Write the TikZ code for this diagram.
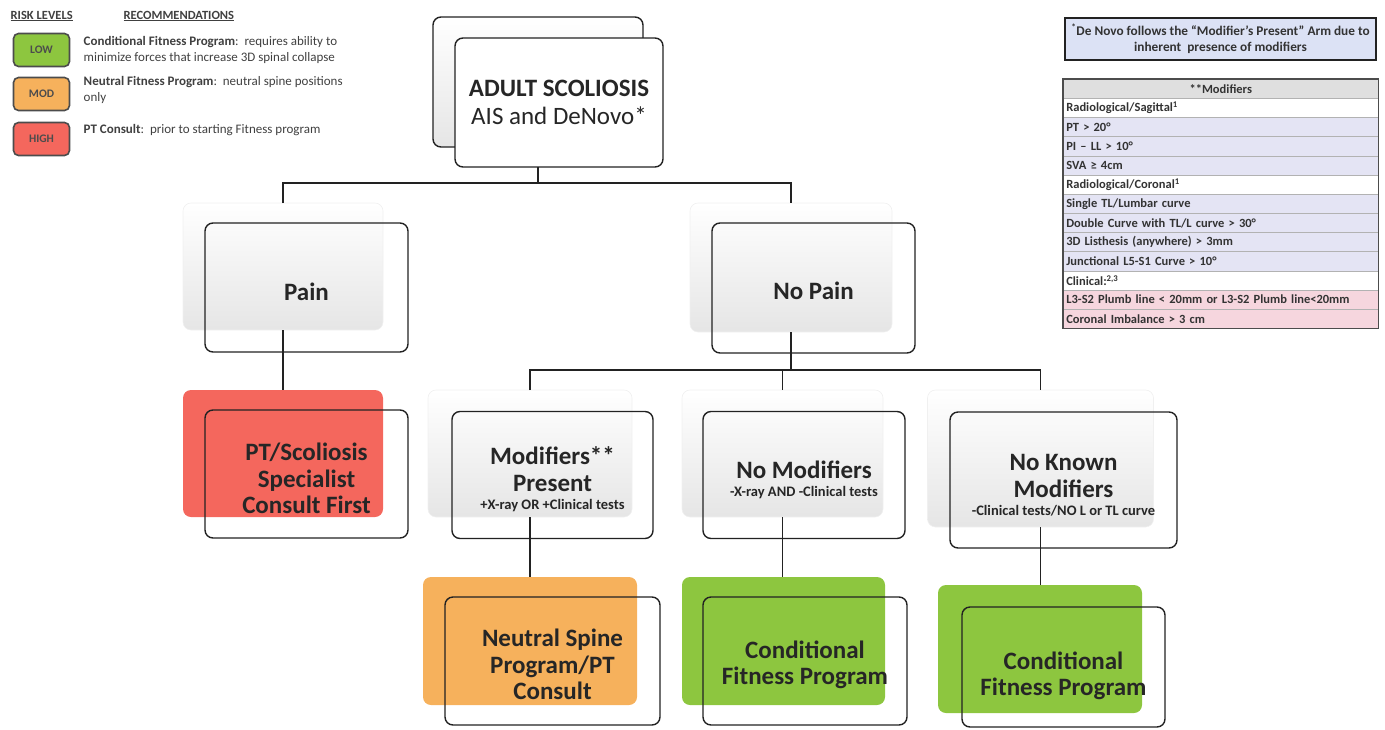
\documentclass[tikz,border=0pt]{standalone}
\usepackage{fontspec}
\setmainfont{Carlito}
\usepackage{tikz}

\definecolor{lowgreen}{HTML}{8DC63F}
\definecolor{modorange}{HTML}{F6B15C}
\definecolor{highred}{HTML}{F4675D}
\definecolor{rowlav}{HTML}{E4E4F4}
\definecolor{rowpink}{HTML}{F6D6DE}
\definecolor{notefill}{HTML}{DCE2F5}
\definecolor{inkline}{HTML}{222222}

\newcommand{\droptext}[1]{\rule{0pt}{#1}}

\begin{document}
\begin{tikzpicture}[x=1pt, y=-1pt,
		line width = 1.4pt,
		boxsize/.style 2 args={minimum width=#1, minimum height=#2, inner sep=0pt, outer sep=0pt},
		backbox/.style={rounded corners=8pt, draw=gray!12, line width=0.6pt, top color=white, bottom color=gray!20},
		riskfill/.style={rounded corners=8pt, fill=#1},
		frontbox/.style={rounded corners=8pt, draw=inkline, align=center, text=black!85,
			font=\fontsize{25}{26.5}\selectfont\bfseries},
		legendbox/.style={rounded corners=5pt, draw=black!70, line width=1.6pt, fill=#1,
			minimum width=56pt, minimum height=33pt, inner sep=0pt,
			font=\fontsize{11.5}{12}\selectfont\bfseries, text=black!70},
		legendtxt/.style={anchor=west, align=left, inner sep=0pt, text=black!75,
			font=\fontsize{13}{16}\selectfont},
		modrow/.style={anchor=north west, draw=gray!60, line width=0.6pt, fill=#1,
			text width=309pt, inner xsep=3pt, inner ysep=0pt, minimum height=19.17pt,
			font=\fontsize{12.5}{13}\selectfont\bfseries, text=black!80}]
	\useasboundingbox (0,0) rectangle (1385,729);

	% legend
	\node [anchor=west, inner sep=0pt, font=\fontsize{12.5}{13}\selectfont\bfseries, text=black!75] (risk-head) at (10,16) {\underline{RISK LEVELS}};
	\node [anchor=west, inner sep=0pt, font=\fontsize{12.5}{13}\selectfont\bfseries, text=black!75] (rec-head) at (123,16) {\underline{RECOMMENDATIONS}};
	\node [legendbox=lowgreen] (low) at (41.5,50) {LOW};
	\node [legendbox=modorange] (mod) at (41.5,94) {MOD};
	\node [legendbox=highred] (high) at (41.5,139) {HIGH};
	\node [legendtxt] (low-txt) at (83,50) {\textbf{Conditional Fitness Program}:\ \ requires ability to\\minimize forces that increase 3D spinal collapse};
	\node [legendtxt] (mod-txt) at (83,90) {\textbf{Neutral Fitness Program}:\ \ neutral spine positions\\only};
	\node [legendtxt] (high-txt) at (83,130) {\textbf{PT Consult}:\ \ prior to starting Fitness program};

	% note and modifier table
	\node [boxsize={311pt}{42pt}, draw=inkline, line width=1.6pt, fill=notefill, align=center,
		font=\fontsize{13.3}{16}\selectfont\bfseries, text=black!80] (note) at (1220.5,39)
		{\textsuperscript{*}De Novo follows the “Modifier’s Present” Arm due to\\inherent\ \ presence of modifiers};
	\node [modrow=gray!25, align=center] (mods-head) at (1063,78.8) {**Modifiers};
	\foreach \i/\txt/\col in {1/{Radiological/Sagittal\textsuperscript{1}}/white,
			2/{PT > 20°}/rowlav,
			3/{PI – LL > 10°}/rowlav,
			4/{SVA ≥ 4cm}/rowlav,
			5/{Radiological/Coronal\textsuperscript{1}}/white,
			6/{Single TL/Lumbar curve}/rowlav,
			7/{Double Curve with TL/L curve > 30°}/rowlav,
			8/{3D Listhesis (anywhere) > 3mm}/rowlav,
			9/{Junctional L5-S1 Curve > 10°}/rowlav,
			10/{Clinical:\textsuperscript{2,3}}/white,
			11/{L3-S2 Plumb line < 20mm or L3-S2 Plumb line<20mm}/rowpink,
			12/{Coronal Imbalance > 3 cm}/rowpink}
		\node [modrow=\col] (row\i) at (1063,{98+(\i-1)*19.17}) {\txt};
	\draw [draw=black!70, line width=1.4pt] (mods-head.north west) rectangle (row12.south east);

	% shaded and coloured boxes behind
	\node [backbox, draw=inkline, line width=1.4pt, boxsize={210pt}{130pt}] (adult-bg) at (538,82) {};
	\node [backbox, boxsize={200pt}{127pt}] (pain-bg) at (283,266.5) {};
	\node [backbox, boxsize={202pt}{129pt}] (nopain-bg) at (791,267.5) {};
	\node [backbox, boxsize={204pt}{127pt}] (modpres-bg) at (530,453.5) {};
	\node [backbox, boxsize={201pt}{127pt}] (nomod-bg) at (782.5,453.5) {};
	\node [backbox, boxsize={226pt}{137pt}] (noknown-bg) at (1040.5,458.5) {};
	\node [riskfill=highred, boxsize={200pt}{127pt}] (ptcons-bg) at (283,453.5) {};
	\node [riskfill=modorange, boxsize={214pt}{128pt}] (neutral-bg) at (530,641) {};
	\node [riskfill=lowgreen, boxsize={203pt}{128pt}] (condfit1-bg) at (783.5,641) {};
	\node [riskfill=lowgreen, boxsize={204pt}{128pt}] (condfit2-bg) at (1040,649) {};

	% connectors
	\coordinate (split1) at (538,183);
	\coordinate (split2) at (791,370);
	\node [frontbox, fill=white, boxsize={208pt}{129pt}] (adult) at (559,102.5)
		{ADULT SCOLIOSIS\\[2pt]{\mdseries AIS and DeNovo*}};
	\draw [inkline] (adult-bg.south |- adult.south) -- (split1);
	\draw [inkline] (pain-bg.north) |- (split1) -| (nopain-bg.north);
	\draw [inkline] (nopain-bg.south) -- (split2);
	\draw [inkline] (modpres-bg.north) |- (split2) -| (noknown-bg.north);
	\draw [inkline] (nomod-bg.north |- split2) -- (nomod-bg.north);
	\draw [inkline] (pain-bg.south) -- (pain-bg.south |- ptcons-bg.north);
	\draw [inkline] (modpres-bg.south) -- (modpres-bg.south |- neutral-bg.north);
	\draw [inkline] (nomod-bg.south) -- (nomod-bg.south |- condfit1-bg.north);
	\draw [inkline] (noknown-bg.south) -- (noknown-bg.south |- condfit2-bg.north);

	% outlined boxes in front
	\node [frontbox, boxsize={203pt}{129pt}] (pain) at (306.5,287.5) {\droptext{27pt}Pain};
	\node [frontbox, boxsize={203pt}{130pt}] (nopain) at (813.5,288) {\droptext{23pt}No Pain};
	\node [frontbox, boxsize={203pt}{128pt}] (ptcons) at (306.5,474) {\droptext{27pt}PT/Scoliosis\\Specialist\\Consult First};
	\node [frontbox, boxsize={201pt}{127pt}] (modpres) at (552.5,475)
		{\droptext{27pt}Modifiers**\\Present\\[-8pt]{\fontsize{14.5}{15}\selectfont +X-ray OR +Clinical tests}};
	\node [frontbox, boxsize={202pt}{127pt}] (nomod) at (804,475)
		{\droptext{27pt}No Modifiers\\[-8pt]{\fontsize{14.5}{15}\selectfont -X-ray AND -Clinical tests}};
	\node [frontbox, boxsize={227pt}{136pt}] (noknown) at (1063.5,480)
		{\droptext{27pt}No Known\\Modifiers\\[-8pt]{\fontsize{14.5}{15}\selectfont -Clinical tests/NO L or TL curve}};
	\node [frontbox, boxsize={215pt}{128pt}] (neutral) at (552.5,661) {\droptext{25pt}Neutral Spine\\Program/PT\\Consult};
	\node [frontbox, boxsize={204pt}{128pt}] (condfit1) at (805,661) {\droptext{25pt}Conditional\\Fitness Program};
	\node [frontbox, boxsize={203pt}{120pt}] (condfit2) at (1063.5,667) {\droptext{35pt}Conditional\\Fitness Program};
\end{tikzpicture}
\end{document}
